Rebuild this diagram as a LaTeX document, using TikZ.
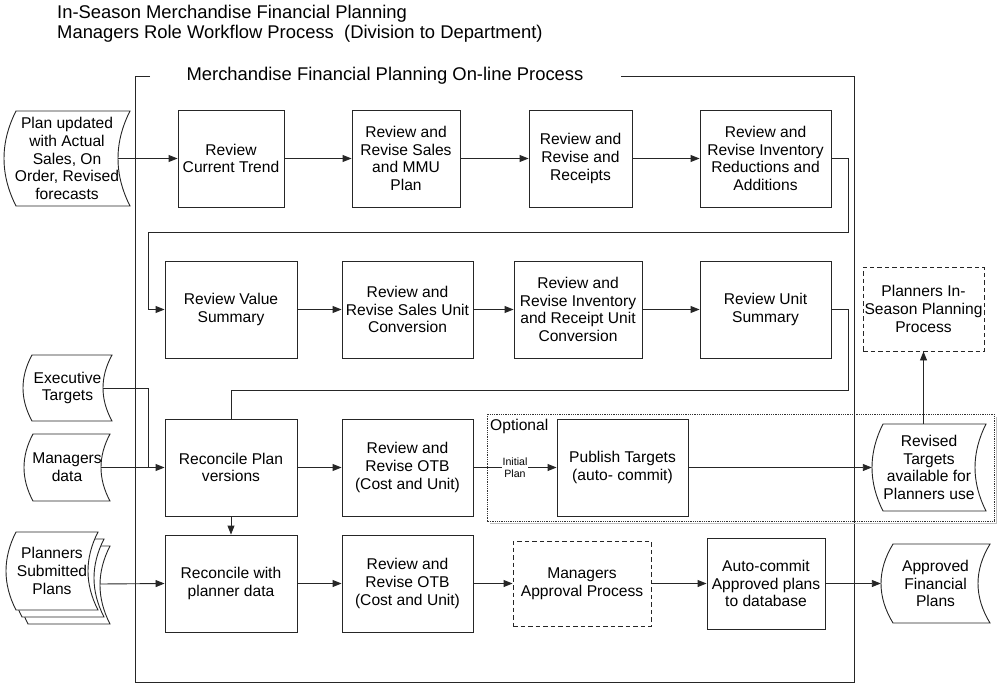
\documentclass[tikz,border=0pt]{standalone}
\usepackage{fontspec}
\setmainfont{Liberation Sans}
\usetikzlibrary{arrows.meta}

\newcommand\boxfont{\fontsize{15.6}{17.8}\selectfont}
\newcommand\headfont{\fontsize{18.4}{20}\selectfont}
\newcommand\tinyfont{\fontsize{10.6}{12}\selectfont}

\tikzset{
  ink/.style={draw=black!85, line width=0.9pt},
  procbox/.style={ink, rectangle, inner sep=0pt, align=center, font=\boxfont},
  dashbox/.style={procbox, dash pattern=on 4.5pt off 3pt},
  sdframe/.style={rectangle, inner sep=0pt},
  txt/.style={inner sep=0pt, align=center, font=\boxfont},
  head/.style={inner sep=0pt, font=\headfont},
  conn/.style={ink},
  arr/.style={ink, -{Triangle[length=9pt,width=7pt]}},
  tinylabel/.style={fill=white, inner sep=1pt, align=center, font=\tinyfont},
}

% stored-data outline: left and right sides are arcs bowed to the left
\newcommand\sdoutline[5]{% L, T, R, B, bulge
  \pgfmathsetmacro\sdc{4*#5/3}
  \pgfmathsetmacro\sdv{(#4-#2)/3}
  \filldraw[ink, fill=white] (#1,#2) -- (#3,#2)
    .. controls ({#3-\sdc},{#2+\sdv}) and ({#3-\sdc},{#4-\sdv}) .. (#3,#4)
    -- (#1,#4)
    .. controls ({#1-\sdc},{#4-\sdv}) and ({#1-\sdc},{#2+\sdv}) .. cycle;
}
% stored-data shape with a named node whose west/east anchors sit on the curves
\newcommand\stored[7]{% name, L, T, R, B, bulge, text
  \sdoutline{#2}{#3}{#4}{#5}{#6}
  \pgfmathsetmacro\sdw{#4-#2}
  \pgfmathsetmacro\sdh{#5-#3}
  \pgfmathsetmacro\sdcx{(#2+#4)/2-#6}
  \pgfmathsetmacro\sdtx{(#2+#4)/2-#6/2}
  \pgfmathsetmacro\sdcy{(#3+#5)/2}
  \node[sdframe, minimum width=\sdw pt, minimum height=\sdh pt] (#1) at (\sdcx,\sdcy) {};
  \node[txt] (#1-t) at (\sdtx,\sdcy) {#7};
}

\begin{document}
\begin{tikzpicture}[x=1pt, y=-1pt]
\useasboundingbox (0,0) rectangle (998,688);

% headings
\node[head, anchor=west] (h1) at (57,14) {In-Season Merchandise Financial Planning};
\node[head, anchor=west] (h2) at (57,34) {Managers Role Workflow Process\ \ (Division to Department)};

% on-line process frame
\draw[ink] (150,76) -- (135,76) -- (135,682) -- (854,682) -- (854,76) -- (621,76);
\node[head] (ftitle) at (385,76) {Merchandise Financial Planning On-line Process};

% optional region with its shadow
\draw[gray!50, line width=1.6pt] (490,523.5) -- (996.3,523.5) -- (996.3,417);
\draw[black!80, line width=0.9pt, dash pattern=on 0.9pt off 0.9pt] (487,414) rectangle (994,521);
\node[txt, anchor=west] (opt) at (490,426) {Optional};

% inputs and outputs
\stored{plan}{16}{111}{130}{206}{12}{Plan updated\\with Actual\\Sales, On\\Order, Revised\\forecasts}
\stored{exec}{32}{355}{112}{421}{9}{Executive\\Targets}
\stored{mgr}{33}{434}{110}{501}{9}{Managers\\data}
\sdoutline{28}{546}{110}{624}{10}
\sdoutline{22}{539}{104}{617}{10}
\stored{plans}{16}{532}{98}{610}{10}{Planners\\Submitted\\Plans}
\coordinate (plansback) at (100,584);
\stored{revised}{883}{424}{986}{511}{11}{Revised\\Targets\\available for\\Planners use}
\stored{approved}{893}{544}{990}{623}{12}{Approved\\Financial\\Plans}

% row 1
\node[procbox, minimum width=106pt, minimum height=97pt] (b11) at (231,158.5) {Review\\Current Trend};
\node[procbox, minimum width=108pt, minimum height=97pt] (b12) at (406,158.5) {Review and\\Revise Sales\\and MMU\\Plan};
\node[procbox, minimum width=103pt, minimum height=97pt] (b13) at (580.5,158.5) {Review and\\Revise and\\Receipts};
\node[procbox, minimum width=131pt, minimum height=97pt] (b14) at (765.5,158.5) {Review and\\Revise Inventory\\Reductions and\\Additions};

% row 2
\node[procbox, minimum width=132pt, minimum height=97pt] (b21) at (231,309.5) {Review Value\\Summary};
\node[procbox, minimum width=131pt, minimum height=97pt] (b22) at (407.5,309.5) {Review and\\Revise Sales Unit\\Conversion};
\node[procbox, minimum width=128pt, minimum height=97pt] (b23) at (578,309.5) {Review and\\Revise Inventory\\and Receipt Unit\\Conversion};
\node[procbox, minimum width=131pt, minimum height=97pt] (b24) at (765.5,309.5) {Review Unit\\Summary};
\node[dashbox, minimum width=121pt, minimum height=84pt] (planners) at (923.5,309) {Planners In-\\Season Planning\\Process};

% row 3
\node[procbox, minimum width=132pt, minimum height=97pt] (b31) at (231,467.5) {Reconcile Plan\\versions};
\node[procbox, minimum width=131pt, minimum height=97pt] (b32) at (407.5,467.5) {Review and\\Revise OTB\\(Cost and Unit)};
\node[procbox, minimum width=131pt, minimum height=97pt] (b33) at (622.5,467.5) {Publish Targets\\(auto- commit)};

% row 4
\node[procbox, minimum width=132pt, minimum height=97pt] (b41) at (231,583.5) {Reconcile with\\planner data};
\node[procbox, minimum width=131pt, minimum height=97pt] (b42) at (407.5,583.5) {Review and\\Revise OTB\\(Cost and Unit)};
\node[dashbox, minimum width=138pt, minimum height=85pt] (b43) at (582,583.5) {Managers\\Approval Process};
\node[procbox, minimum width=118pt, minimum height=91pt] (b44) at (766,583.5) {Auto-commit\\Approved plans\\to database};

% bend points of the wrap-around connectors
\coordinate (bendA) at (848,232);
\coordinate (bendB) at (148,232);
\coordinate (bendC) at (848,390);
\coordinate (execjoin) at (148,467.5);

% connectors
\draw[arr] (plan.east) -- (b11.west);
\draw[arr] (b11.east) -- (b12.west);
\draw[arr] (b12.east) -- (b13.west);
\draw[arr] (b13.east) -- (b14.west);
\draw[arr] (b14.east) -| (bendA) -- (bendB) |- (b21.west);
\draw[arr] (b21.east) -- (b22.west);
\draw[arr] (b22.east) -- (b23.west);
\draw[arr] (b23.east) -- (b24.west);
\draw[conn] (b24.east) -| (bendC) -| (b31.north);
\draw[conn] (exec.east) -| (execjoin);
\draw[arr] (mgr.east) -- (b31.west);
\draw[arr] (b31.east) -- (b32.west);
\draw[arr] (b32.east) -- node[tinylabel] (initial) {Initial\\Plan} (b33.west);
\draw[arr] (b33.east) -- (revised.west);
\draw[arr] (revised.north) -- (revised.north |- planners.south);
\draw[arr] (b31.south) -- (b41.north);
\draw[arr] (plansback) -- (b41.west);
\draw[arr] (b41.east) -- (b42.west);
\draw[arr] (b42.east) -- (b43.west);
\draw[arr] (b43.east) -- (b44.west);
\draw[arr] (b44.east) -- (approved.west);
\end{tikzpicture}
\end{document}
